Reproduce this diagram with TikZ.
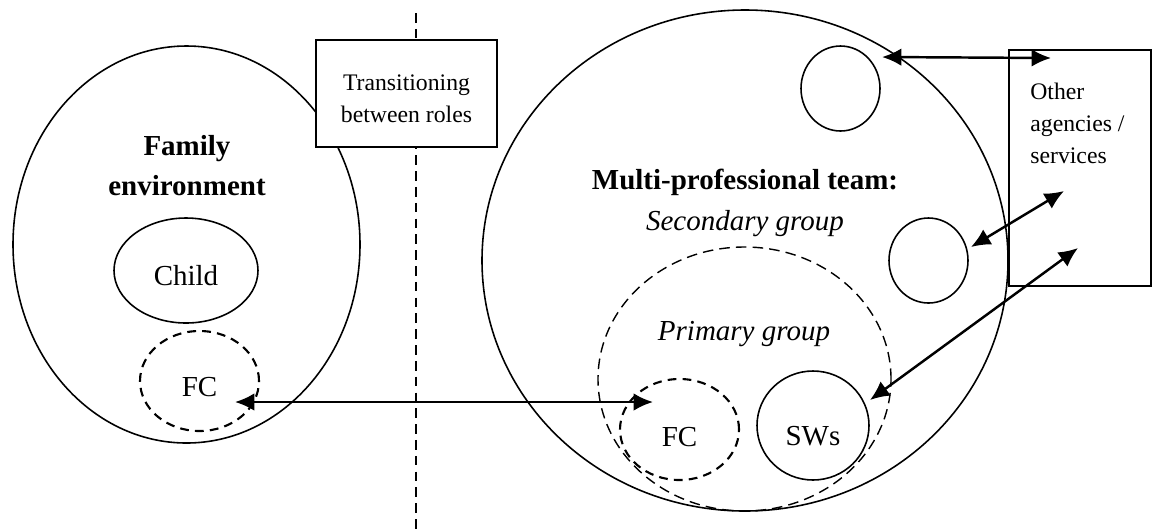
\documentclass[tikz,border=0pt]{standalone}
\usepackage{fontspec}
\setmainfont{Liberation Serif}
\usetikzlibrary{shapes.geometric, arrows.meta}
\newcommand{\mainsize}{\fontsize{16.5}{22.7}\selectfont}
\newcommand{\boxsize}{\fontsize{13.5}{18.2}\selectfont}
\tikzset{sz/.style 2 args={minimum width=#1*0.02cm, minimum height=#2*0.02cm}}
\begin{document}
\begin{tikzpicture}[x=0.02cm, y=-0.02cm, every node/.style={inner sep=0pt, font=\mainsize},
  blob/.style={ellipse, draw, line width=0.9pt},
  dblob/.style={blob, dash pattern=on 5pt off 3.5pt, line width=1.2pt},
  rolebox/.style={rectangle, draw, fill=white, line width=1.1pt, align=center, font=\boxsize},
  link/.style={line width=1.4pt, {Latex[length=11pt, width=10pt]}-{Latex[length=11pt, width=10pt]}}]
\useasboundingbox (0,0) rectangle (1152,529);
% family side
\node[blob, sz={347}{397}] (famenv) at (186.5,244.5) {};
\node[align=center, font=\mainsize\bfseries] (famtitle) at (187,166) {Family\\environment};
\node[blob, sz={144}{105}, text height=17.6pt] (child) at (186,270.5) {Child};
\node[dblob, sz={119}{100}, text height=17.7pt] (fcfam) at (199.5,381) {FC};
% team side
\node[blob, sz={526}{501}] (team) at (745,260.5) {};
\node[font=\mainsize\bfseries] (teamtitle) at (745,182) {Multi-professional team:};
\node[font=\mainsize\itshape] (secgrp) at (745,224) {Secondary group};
\node[blob, dash pattern=on 6pt off 3.5pt, line width=0.8pt, sz={293}{264}] (primgrp) at (744.5,379) {};
\node[font=\mainsize\itshape] (primtxt) at (744,334) {Primary group};
\node[dblob, sz={119}{101}, text height=19.5pt] (fcteam) at (679.5,429.5) {FC};
\node[blob, sz={112}{109}, text height=23.5pt] (sws) at (813,425.5) {SWs};
\node[blob, sz={79}{85}] (topc) at (840.5,88.5) {};
\node[blob, sz={79}{85}] (midc) at (928.5,260.5) {};
% divide
\coordinate (divtop) at (415.7,13);
\coordinate (divbot) at (415.7,529);
\draw[line width=1.1pt, dash pattern=on 5.5pt off 3.5pt] (divtop) -- (divbot);
\node[rolebox, sz={181}{107}, text height=33pt, text depth=0pt] (roles) at (406.5,93.5) {Transitioning\\between roles};
\node[rectangle, draw, line width=1.1pt, sz={142}{236}] (others) at (1080,168) {};
\node[align=left, anchor=north west, font=\boxsize] (otherstxt) at (1030,83) {Other\\agencies /\\services};
% links
\coordinate (fcfamend) at (235,402);
\coordinate (fcteamend) at (653,402);
\coordinate (topend) at (882,57);
\coordinate (othtop) at (1051,58);
\coordinate (midend) at (971,247);
\coordinate (othmid) at (1064,191);
\coordinate (swsend) at (870,400);
\coordinate (othlow) at (1078,248);
\draw[link] (fcfamend) -- (fcteamend);
\draw[link] (topend) -- (othtop);
\draw[link] (midend) -- (othmid);
\draw[link] (swsend) -- (othlow);
\end{tikzpicture}
\end{document}
